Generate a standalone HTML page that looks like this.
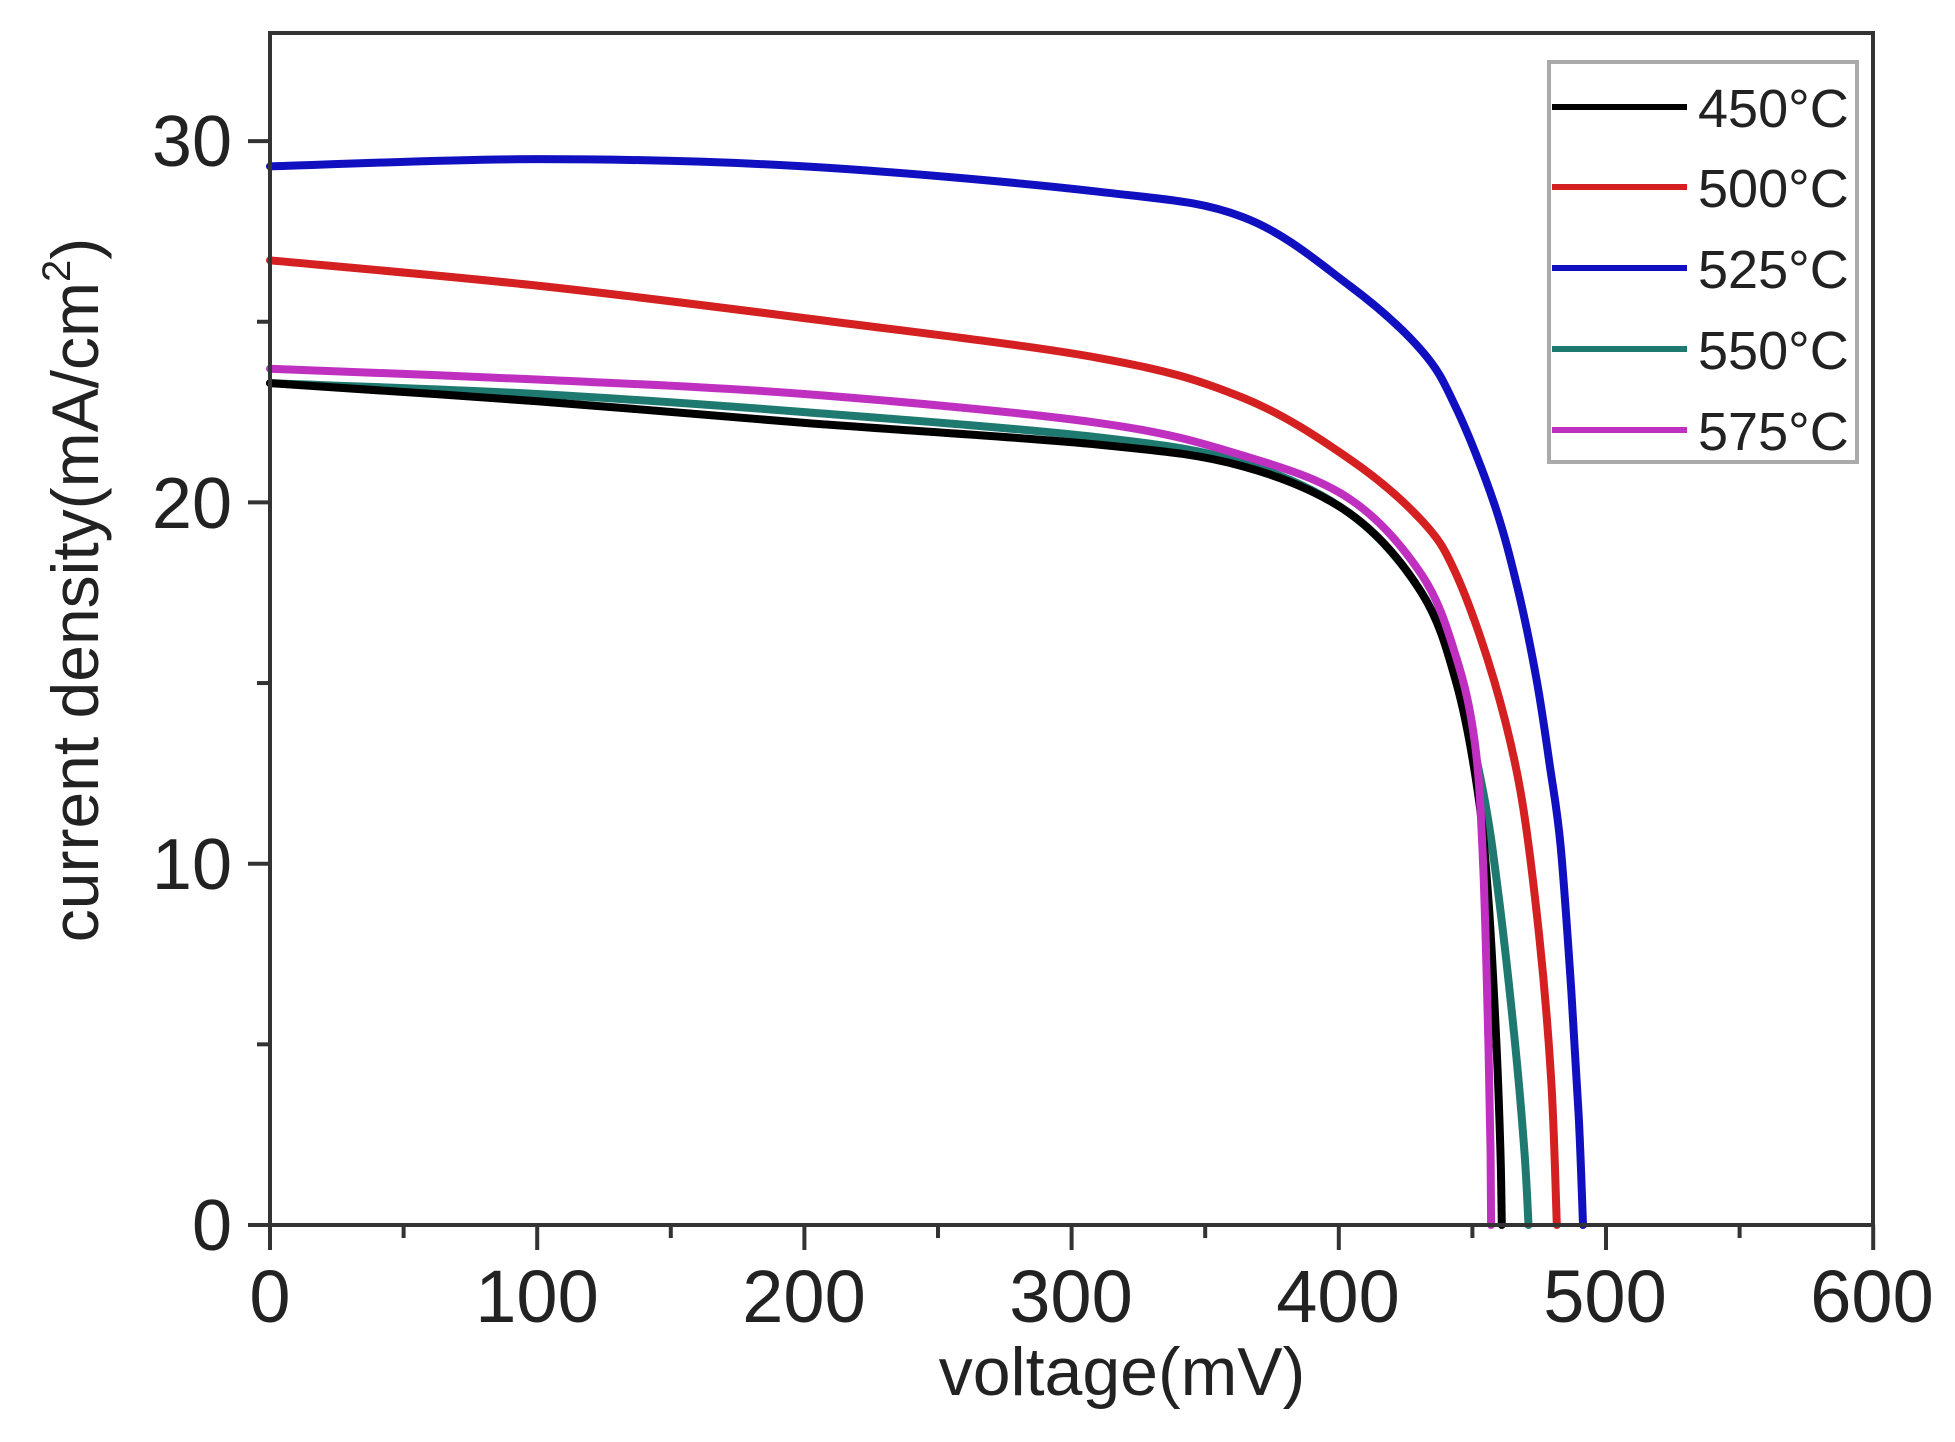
<!DOCTYPE html>
<html><head><meta charset="utf-8"><style>
html,body{margin:0;padding:0;background:#fff;}
svg{display:block;}
text{font-family:"Liberation Sans",Arial,sans-serif;fill:#222;}
</style></head><body>
<svg id="s" width="1955" height="1442" viewBox="0 0 1955 1442" xmlns="http://www.w3.org/2000/svg">
<rect width="1955" height="1442" fill="#fff"/>
<g id="curves" fill="none" stroke-width="8" stroke-linejoin="round" stroke-linecap="round"></g>
<rect x="270" y="33" width="1603" height="1192" fill="none" stroke="#333" stroke-width="4"/>
<g id="ticks" stroke="#333" stroke-width="4"></g>
<g font-size="72" text-anchor="end">
<text x="232" y="1250">0</text>
<text x="232" y="889">10</text>
<text x="232" y="528">20</text>
<text x="232" y="166">30</text>
</g>
<g font-size="74" text-anchor="middle">
<text x="270" y="1322">0</text>
<text x="537" y="1322">100</text>
<text x="804" y="1322">200</text>
<text x="1071" y="1322">300</text>
<text x="1338" y="1322">400</text>
<text x="1605" y="1322">500</text>
<text x="1872" y="1322">600</text>
</g>
<text x="1122" y="1395" font-size="68" text-anchor="middle">voltage(mV)</text>
<text transform="translate(98,590) rotate(-90)" font-size="66" text-anchor="middle">current density(mA/cm<tspan font-size="40" dy="-28">2</tspan><tspan dy="28">)</tspan></text>
<rect x="1549" y="62" width="308" height="400" fill="#fff" stroke="#aaa" stroke-width="4"/>
<g stroke-width="6">
<line x1="1552" y1="107" x2="1687" y2="107" stroke="#000"/>
<line x1="1552" y1="187" x2="1687" y2="187" stroke="#d42020"/>
<line x1="1552" y1="268" x2="1687" y2="268" stroke="#1010c0"/>
<line x1="1552" y1="349" x2="1687" y2="349" stroke="#1e7a70"/>
<line x1="1552" y1="430" x2="1687" y2="430" stroke="#c030c0"/>
</g>
<g font-size="54">
<text x="1698" y="127">450°C</text>
<text x="1698" y="207">500°C</text>
<text x="1698" y="288">525°C</text>
<text x="1698" y="369">550°C</text>
<text x="1698" y="450">575°C</text>
</g>
</svg>
<script>
var X=function(v){return 270+v*2.672;},Y=function(j){return 1225-j*36.13;};
var T=document.getElementById("ticks"),t="";
for(var v=0;v<=600;v+=50){var L=(v%100==0)?25:13;t+='<line x1="'+X(v)+'" y1="1225" x2="'+X(v)+'" y2="'+(1225+L)+'"/>';}
for(var j=0;j<=30;j+=5){var L=(j%10==0)?22:13;t+='<line x1="270" y1="'+Y(j)+'" x2="'+(270-L)+'" y2="'+Y(j)+'"/>';}
T.innerHTML=t;
var series=[
["#1e7a70",[[0,23.3],[100,23.0],[200,22.5],[310,21.8],[364,21.1],[404,19.7],[431,17.5],[444,15.1],[454,12.0],[460,9],[466,5],[469.5,2],[471,0]]],
["#000000",[[0,23.3],[100,22.8],[200,22.2],[310,21.6],[364,21.0],[404,19.7],[431,17.5],[444,15.0],[452,12.0],[456,9],[459,5],[460.5,2],[461,0]]],
["#c030c0",[[0,23.7],[100,23.4],[200,23.0],[310,22.2],[364,21.3],[404,20.1],[431,18.0],[444,15.7],[451,13.3],[454,10],[456,5],[456.8,2],[457,0]]],
["#d42020",[[0,26.7],[100,26.0],[200,25.1],[310,24.0],[364,22.9],[404,21.2],[431,19.5],[444,18.0],[458,15.1],[468,12.0],[475,8],[479.5,4],[481.6,0]]],
["#1010c0",[[0,29.3],[100,29.5],[200,29.3],[310,28.6],[364,27.9],[404,26.0],[431,24.2],[444,22.6],[458,20.0],[467,17.6],[474,15.1],[479,12.7],[483,10.5],[487,6.5],[489.8,3],[491.4,0]]]
];
var G=document.getElementById("curves"),h="";
series.forEach(function(s){
 var p=s[1].map(function(q){return [X(q[0]),Y(q[1])];});
 var d="M"+p[0][0]+","+p[0][1];
 for(var i=0;i<p.length-1;i++){
  var p0=p[i-1]||p[i],p1=p[i],p2=p[i+1],p3=p[i+2]||p2;
  var c1=[p1[0]+(p2[0]-p0[0])/6,p1[1]+(p2[1]-p0[1])/6];
  var c2=[p2[0]-(p3[0]-p1[0])/6,p2[1]-(p3[1]-p1[1])/6];
  d+=" C"+c1[0]+","+c1[1]+" "+c2[0]+","+c2[1]+" "+p2[0]+","+p2[1];
 }
 h+='<path d="'+d+'" stroke="'+s[0]+'"/>';
});
G.innerHTML=h;
</script>
</body></html>
